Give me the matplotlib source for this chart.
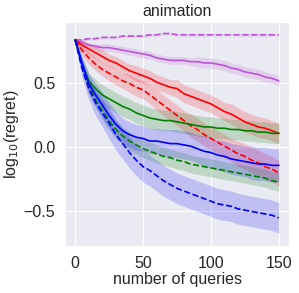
import matplotlib
matplotlib.use("Agg")
import matplotlib.pyplot as plt
import seaborn as sns
import numpy as np

# number of queries (sampled every 5)
queries = list(range(0, 151, 5))

# mean log10(regret) per method
purple_solid = [0.84, 0.82, 0.80, 0.79, 0.78, 0.78, 0.77, 0.76, 0.75, 0.74, 0.73,
                0.72, 0.70, 0.69, 0.68, 0.68, 0.68, 0.67, 0.67, 0.66, 0.66,
                0.65, 0.64, 0.62, 0.61, 0.59, 0.58, 0.57, 0.55, 0.54, 0.52]
purple_dashed = [0.84, 0.84, 0.85, 0.85, 0.86, 0.86, 0.86, 0.87, 0.87, 0.87, 0.87,
                 0.88, 0.88, 0.89, 0.89, 0.88, 0.88, 0.88, 0.88, 0.88, 0.88,
                 0.88, 0.88, 0.88, 0.88, 0.88, 0.88, 0.88, 0.88, 0.88, 0.88]
red_solid = [0.84, 0.80, 0.77, 0.74, 0.71, 0.68, 0.66, 0.63, 0.60, 0.58, 0.56,
             0.54, 0.51, 0.49, 0.47, 0.46, 0.42, 0.40, 0.38, 0.36, 0.34,
             0.31, 0.28, 0.26, 0.23, 0.20, 0.18, 0.16, 0.15, 0.13, 0.11]
red_dashed = [0.84, 0.76, 0.70, 0.65, 0.61, 0.58, 0.55, 0.52, 0.50, 0.47, 0.45,
              0.41, 0.37, 0.33, 0.29, 0.25, 0.21, 0.17, 0.14, 0.10, 0.07,
              0.04, 0.01, -0.02, -0.05, -0.07, -0.10, -0.12, -0.15, -0.17, -0.20]
green_solid = [0.84, 0.65, 0.52, 0.46, 0.41, 0.38, 0.35, 0.32, 0.30, 0.27, 0.25,
               0.23, 0.22, 0.21, 0.21, 0.20, 0.19, 0.18, 0.17, 0.16, 0.16,
               0.15, 0.15, 0.14, 0.14, 0.13, 0.13, 0.12, 0.12, 0.11, 0.11]
green_dashed = [0.84, 0.64, 0.48, 0.37, 0.29, 0.21, 0.14, 0.09, 0.05, 0.02, -0.01,
                -0.03, -0.05, -0.07, -0.08, -0.10, -0.11, -0.13, -0.14, -0.15, -0.16,
                -0.17, -0.18, -0.19, -0.20, -0.21, -0.22, -0.23, -0.24, -0.26, -0.27]
blue_solid = [0.84, 0.66, 0.50, 0.41, 0.33, 0.25, 0.18, 0.13, 0.10, 0.08, 0.07,
              0.05, 0.05, 0.04, 0.03, 0.03, 0.02, 0.01, -0.01, -0.03, -0.04,
              -0.06, -0.07, -0.09, -0.10, -0.11, -0.12, -0.13, -0.13, -0.14, -0.14]
blue_dashed = [0.84, 0.62, 0.46, 0.35, 0.27, 0.19, 0.10, 0.03, -0.04, -0.10, -0.15,
               -0.18, -0.22, -0.26, -0.29, -0.32, -0.34, -0.36, -0.38, -0.40, -0.42,
               -0.44, -0.45, -0.46, -0.48, -0.49, -0.50, -0.51, -0.52, -0.53, -0.55]

# half width of the shaded band
purple_solid_err = [0.01, 0.02, 0.02, 0.02, 0.03, 0.03, 0.03, 0.03, 0.03, 0.03, 0.03,
                    0.03, 0.03, 0.03, 0.03, 0.03, 0.03, 0.03, 0.04, 0.04, 0.04,
                    0.04, 0.04, 0.04, 0.04, 0.04, 0.04, 0.04, 0.04, 0.04, 0.04]
purple_dashed_err = [0.01, 0.01, 0.01, 0.01, 0.01, 0.01, 0.01, 0.01, 0.01, 0.01, 0.01,
                     0.01, 0.01, 0.01, 0.01, 0.01, 0.01, 0.01, 0.01, 0.01, 0.01,
                     0.01, 0.01, 0.01, 0.01, 0.01, 0.01, 0.01, 0.01, 0.01, 0.01]
red_solid_err = [0.02, 0.04, 0.04, 0.05, 0.05, 0.05, 0.05, 0.05, 0.05, 0.06, 0.06,
                 0.06, 0.06, 0.06, 0.06, 0.07, 0.07, 0.07, 0.07, 0.07, 0.07,
                 0.07, 0.07, 0.08, 0.08, 0.08, 0.08, 0.08, 0.08, 0.08, 0.08]
red_dashed_err = [0.02, 0.04, 0.05, 0.05, 0.05, 0.06, 0.06, 0.06, 0.07, 0.07, 0.07,
                  0.07, 0.08, 0.08, 0.08, 0.08, 0.08, 0.09, 0.09, 0.09, 0.09,
                  0.09, 0.09, 0.09, 0.10, 0.10, 0.10, 0.10, 0.10, 0.10, 0.10]
green_solid_err = [0.02, 0.05, 0.06, 0.07, 0.08, 0.08, 0.08, 0.08, 0.08, 0.08, 0.08,
                   0.08, 0.08, 0.08, 0.08, 0.08, 0.08, 0.08, 0.08, 0.08, 0.08,
                   0.08, 0.08, 0.08, 0.08, 0.08, 0.08, 0.08, 0.08, 0.08, 0.08]
green_dashed_err = [0.02, 0.05, 0.06, 0.06, 0.07, 0.07, 0.07, 0.07, 0.07, 0.07, 0.07,
                    0.07, 0.07, 0.07, 0.07, 0.07, 0.07, 0.07, 0.07, 0.07, 0.07,
                    0.07, 0.07, 0.07, 0.07, 0.07, 0.07, 0.07, 0.07, 0.07, 0.07]
blue_solid_err = [0.02, 0.06, 0.08, 0.09, 0.10, 0.10, 0.10, 0.10, 0.10, 0.10, 0.10,
                  0.10, 0.10, 0.10, 0.11, 0.11, 0.11, 0.11, 0.11, 0.12, 0.12,
                  0.12, 0.12, 0.12, 0.12, 0.12, 0.13, 0.13, 0.13, 0.13, 0.13]
blue_dashed_err = [0.02, 0.07, 0.09, 0.10, 0.11, 0.12, 0.12, 0.12, 0.12, 0.12, 0.12,
                   0.12, 0.12, 0.12, 0.12, 0.12, 0.12, 0.12, 0.12, 0.12, 0.12,
                   0.12, 0.12, 0.12, 0.12, 0.12, 0.12, 0.12, 0.12, 0.12, 0.12]

series = [
    (purple_dashed, purple_dashed_err, "mediumorchid", "--"),
    (purple_solid, purple_solid_err, "mediumorchid", "-"),
    (red_solid, red_solid_err, "red", "-"),
    (red_dashed, red_dashed_err, "red", "--"),
    (green_solid, green_solid_err, "green", "-"),
    (green_dashed, green_dashed_err, "green", "--"),
    (blue_solid, blue_solid_err, "blue", "-"),
    (blue_dashed, blue_dashed_err, "blue", "--"),
]

sns.set_style("darkgrid")
plt.rcParams['font.family'] = ['Liberation Sans', 'DejaVu Sans']

fig = plt.figure(figsize=(2.99, 2.93), dpi=100)
ax = fig.add_axes([0.2174, 0.1604, 0.7492, 0.7645])

x = np.array(queries)
for mean, err, color, ls in series:
    mean = np.array(mean)
    err = np.array(err)
    ax.fill_between(x, mean - err, mean + err, color=color, alpha=0.18, linewidth=0)
    ax.plot(x, mean, color=color, linestyle=ls, linewidth=1.2)

ax.set_xlim(-7.5, 157.5)
ax.set_ylim(-0.77, 0.98)
ax.set_xticks([0, 50, 100, 150])
ax.set_yticks([-0.5, 0.0, 0.5])
ax.tick_params(labelsize=11.5)
ax.set_xlabel("number of queries", fontsize=11.5, labelpad=1)
ax.set_ylabel("log$_{10}$(regret)", fontsize=11.5, labelpad=2)
ax.set_title("animation", fontsize=11.5, pad=4)

fig.savefig("out.png", dpi=100)
